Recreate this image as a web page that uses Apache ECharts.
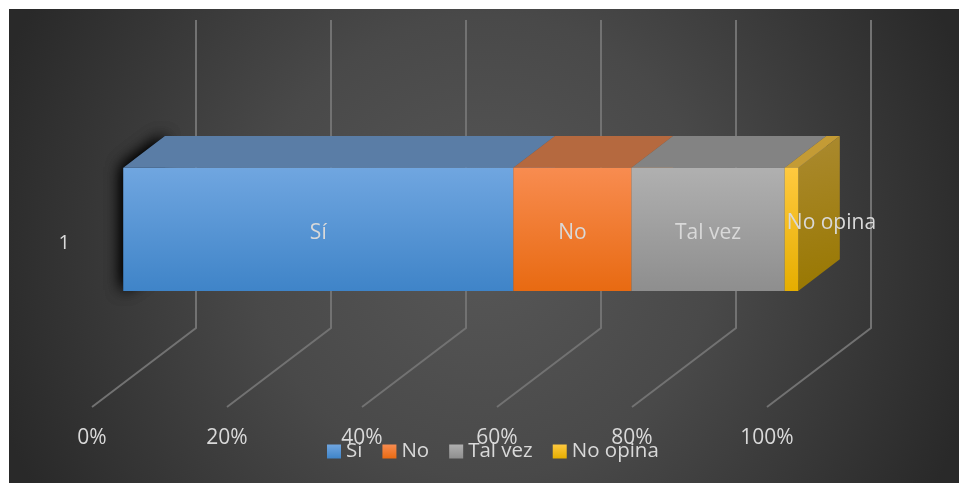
<!DOCTYPE html>
<html>
<head>
<meta charset="utf-8">
<style>
  html, body { margin: 0; padding: 0; background: #fff; }
  #chart { position: absolute; left: 9px; top: 9px; width: 950px; height: 474px; }
</style>
<script src="https://cdn.jsdelivr.net/npm/echarts@6/dist/echarts.min.js"></script>
</head>
<body>
<div id="chart"></div>
<script>
const categories = [ '1' ]
const ticks = [ 0, 20, 40, 60, 80, 100 ]
const si = [ 57.8 ]
const no = [ 17.5 ]
const talVez = [ 22.7 ]
const noOpina = [ 2.0 ]

const fontFamily = '"Open Sans", "Noto Sans", sans-serif'
const textColor = '#d9d9d9'

// floor depth of the fake 3D box, the bar sits between 30% and 70% of it
const depthX = 104
const depthY = -79
const wallHeight = 308
const barRatio = 0.4

const gradient = ( top, bottom ) => new echarts.graphic.LinearGradient( 0, 0, 0, 1, [
  { offset : 0, color : top },
  { offset : 1, color : bottom }
] )

const palette = [
  { name : 'Sí', values : si, front : [ '#70a6e0', '#3f84c8' ], top : '#5a7da6', side : [ '#41648c', '#2f5b8c' ] },
  { name : 'No', values : no, front : [ '#f88c50', '#e86a12' ], top : '#b5693f', side : [ '#a8602c', '#94500f' ] },
  { name : 'Tal vez', values : talVez, front : [ '#b0b0b0', '#8e8e8e' ], top : '#838383', side : [ '#707070', '#5a5a5a' ] },
  { name : 'No opina', values : noOpina, front : [ '#ffc93f', '#e5ae00' ], top : '#c49b35', side : [ '#ab8a30', '#987700' ], labelDx : 40, labelDy : -10 }
]

const gridRender = ( params, api ) => {
  const floor = api.coord( [ api.value( 0 ), 0 ] )
  const bottom = params.coordSys.y + params.coordSys.height
  const wallY = bottom + depthY
  return {
    type : 'polyline',
    shape : { points : [
      [ floor[ 0 ], bottom ],
      [ floor[ 0 ] + depthX, wallY ],
      [ floor[ 0 ] + depthX, wallY - wallHeight ]
    ] },
    style : { stroke : '#727272', lineWidth : 2, fill : null }
  }
}

const barRender = item => ( params, api ) => {
  const start = api.coord( [ api.value( 0 ), api.value( 2 ) ] )
  const end = api.coord( [ api.value( 1 ), api.value( 2 ) ] )
  const h = api.size( [ 0, 1 ] )[ 1 ] * barRatio
  const fx = depthX * 0.3
  const fy = depthY * 0.3
  const bx = depthX * 0.4
  const by = depthY * 0.4
  const x0 = start[ 0 ] + fx
  const x1 = end[ 0 ] + fx
  const y0 = start[ 1 ] + fy - h / 2
  const y1 = y0 + h
  const children = []
  if ( params.seriesIndex === 1 ) {
    // black blurred shadow on the left of the first block, drawn twice to get it dense
    for ( let i = 0; i < 2; i++ ) {
      children.push( {
        type : 'polygon',
        shape : { points : [ [ x0, y0 ], [ x0 + bx, y0 + by ], [ x0 + bx, y1 + by ], [ x0, y1 ] ] },
        style : { fill : '#000', shadowBlur : 16, shadowColor : '#000', shadowOffsetX : -1, shadowOffsetY : 0 }
      } )
    }
  }
  children.push( {
    type : 'polygon',
    shape : { points : [ [ x1, y0 ], [ x1 + bx, y0 + by ], [ x1 + bx, y1 + by ], [ x1, y1 ] ] },
    style : { fill : new echarts.graphic.LinearGradient( 0, 0, 1, 1, [
      { offset : 0, color : item.side[ 0 ] },
      { offset : 1, color : item.side[ 1 ] }
    ] ) }
  } )
  children.push( {
    type : 'polygon',
    shape : { points : [ [ x0, y0 ], [ x0 + bx, y0 + by ], [ x1 + bx, y0 + by ], [ x1, y0 ] ] },
    style : { fill : item.top }
  } )
  children.push( {
    type : 'rect',
    shape : { x : x0, y : y0, width : x1 - x0, height : h },
    style : { fill : gradient( item.front[ 0 ], item.front[ 1 ] ) }
  } )
  children.push( {
    type : 'text',
    x : ( x0 + x1 ) / 2 + ( item.labelDx || 0 ),
    y : ( y0 + y1 ) / 2 + 4 + ( item.labelDy || 0 ),
    style : {
      text : item.name,
      fill : textColor,
      font : '21px ' + fontFamily,
      align : 'center',
      verticalAlign : 'middle'
    }
  } )
  return { type : 'group', children }
}

let sum = 0
const barSeries = palette.map( item => {
  const startAt = sum
  sum += item.values[ 0 ]
  return {
    name : item.name,
    type : 'custom',
    renderItem : barRender( item ),
    clip : false,
    itemStyle : { color : gradient( item.front[ 0 ], item.front[ 1 ] ) },
    encode : { x : [ 0, 1 ], y : 2 },
    data : [ [ startAt, startAt + item.values[ 0 ], 0 ] ],
    silent : true
  }
} )

const chart = echarts.init( document.getElementById( 'chart' ) )

chart.setOption( {
  animation : false,
  backgroundColor : {
    type : 'radial',
    x : 0.5,
    y : 0.5,
    r : 1.08,
    colorStops : [
      { offset : 0, color : '#575757' },
      { offset : 0.45, color : '#494949' },
      { offset : 1, color : '#292929' }
    ]
  },
  grid : { left : 83, top : 90, width : 675, height : 308 },
  legend : {
    data : palette.map( item => item.name ),
    left : 313,
    top : 427,
    icon : 'rect',
    itemWidth : 14,
    itemHeight : 14,
    itemGap : 20,
    textStyle : { color : textColor, fontSize : 20.5, fontFamily }
  },
  xAxis : {
    type : 'value',
    min : 0,
    max : 100,
    interval : 20,
    axisLine : { show : false },
    axisTick : { show : false },
    splitLine : { show : false },
    axisLabel : {
      formatter : '{value}%',
      color : textColor,
      fontSize : 21,
      fontFamily,
      margin : 21
    }
  },
  yAxis : {
    type : 'category',
    data : categories,
    axisLine : { show : false },
    axisTick : { show : false },
    axisLabel : {
      color : textColor,
      fontSize : 20,
      fontFamily,
      margin : 22,
      verticalAlign : 'bottom'
    }
  },
  series : [
    {
      type : 'custom',
      renderItem : gridRender,
      clip : false,
      silent : true,
      encode : { x : 0 },
      data : ticks.map( t => [ t ] )
    },
    ...barSeries
  ]
} )
</script>
</body>
</html>
